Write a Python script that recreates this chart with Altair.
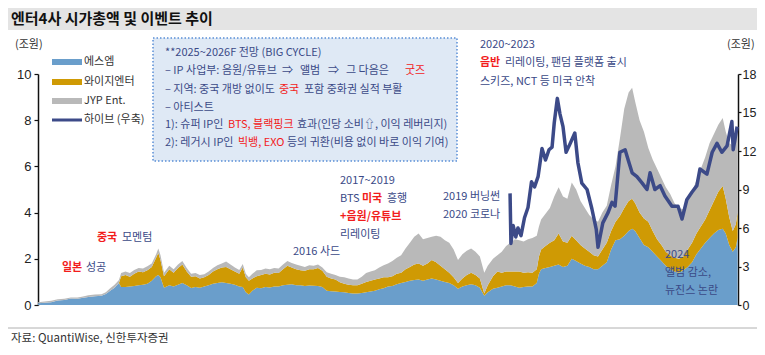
import altair as alt
import pandas as pd

# ---------------- data ----------------
t = [2010.00, 2010.15, 2010.30, 2010.45, 2010.60, 2010.75, 2010.90, 2011.00, 2011.15, 2011.30,
     2011.45, 2011.55, 2011.65, 2011.75, 2011.85, 2011.90, 2012.00, 2012.10, 2012.20, 2012.30,
     2012.40, 2012.50, 2012.60, 2012.70, 2012.75, 2012.80, 2012.88, 2013.00, 2013.10, 2013.20,
     2013.30, 2013.40, 2013.50, 2013.60, 2013.70, 2013.80, 2013.90, 2014.00, 2014.10, 2014.20,
     2014.30, 2014.40, 2014.50, 2014.60, 2014.68, 2014.75, 2014.82, 2014.90, 2015.00, 2015.10,
     2015.20, 2015.30, 2015.40, 2015.50, 2015.60, 2015.70, 2015.80, 2015.90, 2016.00, 2016.10,
     2016.20, 2016.30, 2016.40, 2016.50, 2016.60, 2016.70, 2016.80, 2016.90, 2017.00, 2017.10,
     2017.20, 2017.30, 2017.40, 2017.50, 2017.60, 2017.70, 2017.80, 2017.90, 2018.00, 2018.10,
     2018.20, 2018.30, 2018.40, 2018.50, 2018.60, 2018.70, 2018.80, 2018.90, 2019.00, 2019.10,
     2019.20, 2019.30, 2019.40, 2019.50, 2019.60, 2019.70, 2019.80, 2019.90, 2020.00, 2020.10,
     2020.20, 2020.28, 2020.40, 2020.50, 2020.60, 2020.70, 2020.80, 2020.90, 2021.00, 2021.10,
     2021.20, 2021.30, 2021.40, 2021.45, 2021.50, 2021.60, 2021.70, 2021.80, 2021.90, 2022.00,
     2022.10, 2022.20, 2022.30, 2022.40, 2022.50, 2022.60, 2022.70, 2022.80, 2022.90, 2023.00,
     2023.10, 2023.20, 2023.30, 2023.40, 2023.50, 2023.58, 2023.65, 2023.75, 2023.85, 2023.95,
     2024.05, 2024.15, 2024.25, 2024.35, 2024.45, 2024.55, 2024.65, 2024.75, 2024.85, 2024.95,
     2025.05, 2025.15, 2025.25, 2025.35, 2025.45, 2025.55, 2025.65, 2025.72, 2025.80, 2025.88,
     2025.95, 2025.99]

sm = [0.08, 0.10, 0.12, 0.20, 0.22, 0.28, 0.27, 0.30, 0.35, 0.38,
      0.40, 0.48, 0.62, 0.75, 0.95, 0.78, 0.78, 0.80, 0.82, 0.85,
      0.88, 0.92, 1.05, 1.25, 1.30, 1.20, 0.75, 0.85, 0.80, 0.88,
      0.95, 0.85, 0.74, 0.78, 0.75, 0.80, 0.85, 0.92, 0.95, 0.98,
      0.95, 0.92, 0.88, 0.80, 0.78, 0.55, 0.45, 0.62, 0.75, 0.72,
      0.78, 0.76, 0.80, 0.80, 0.85, 0.88, 0.90, 0.85, 0.85, 0.82,
      0.84, 0.83, 0.82, 0.78, 0.62, 0.60, 0.58, 0.56, 0.55, 0.52,
      0.50, 0.50, 0.52, 0.55, 0.58, 0.62, 0.68, 0.72, 0.80, 0.82,
      0.90, 0.95, 1.00, 1.05, 1.08, 1.10, 1.05, 1.10, 1.15, 1.10,
      1.05, 1.00, 0.95, 0.85, 0.70, 0.80, 0.85, 0.90, 0.85, 0.75,
      0.40, 0.55, 0.70, 0.75, 0.80, 0.85, 0.85, 0.80, 0.75, 0.78,
      0.80, 0.80, 0.95, 1.35, 1.55, 1.60, 1.65, 1.70, 1.75, 1.65,
      1.70, 2.00, 1.90, 1.80, 1.70, 1.65, 1.55, 1.55, 1.70, 1.85,
      2.40, 2.80, 2.85, 3.00, 3.20, 3.30, 3.20, 2.90, 2.60, 2.50,
      2.30, 2.10, 1.90, 1.70, 1.55, 1.45, 1.40, 1.50, 1.65, 1.85,
      2.20, 2.45, 2.70, 2.90, 3.10, 3.25, 3.30, 3.10, 2.60, 2.30,
      2.50, 2.90]

yg = [0, 0, 0, 0, 0, 0, 0, 0, 0, 0,
      0, 0, 0, 0, 0, 0.47, 0.52, 0.42, 0.53, 0.60,
      0.54, 0.58, 0.60, 0.80, 0.95, 0.75, 0.50, 0.70, 0.60, 0.72,
      0.80, 0.60, 0.48, 0.47, 0.40, 0.40, 0.45, 0.53, 0.60, 0.64,
      0.70, 0.63, 0.57, 0.55, 0.84, 0.65, 0.60, 0.53, 0.50, 0.58,
      0.57, 0.56, 0.60, 0.58, 0.70, 0.82, 0.72, 0.70, 0.65, 0.66,
      0.71, 0.72, 0.78, 0.70, 0.60, 0.55, 0.52, 0.42, 0.37, 0.36,
      0.35, 0.35, 0.40, 0.45, 0.47, 0.48, 0.47, 0.48, 0.40, 0.43,
      0.45, 0.45, 0.55, 0.60, 0.67, 0.70, 0.65, 0.70, 0.80, 0.75,
      0.65, 0.55, 0.45, 0.35, 0.25, 0.35, 0.45, 0.50, 0.45, 0.40,
      0.10, 0.30, 0.55, 0.70, 0.60, 0.60, 0.60, 0.65, 0.70, 0.62,
      0.62, 0.60, 0.60, 0.75, 0.85, 0.95, 1.05, 1.10, 1.35, 1.10,
      1.00, 1.00, 0.90, 0.80, 0.75, 0.65, 0.60, 0.55, 0.70, 0.85,
      0.80, 0.80, 1.00, 1.20, 1.30, 1.30, 1.20, 1.10, 1.15, 1.10,
      0.90, 0.75, 0.70, 0.60, 0.60, 0.60, 0.60, 0.60, 0.75, 0.85,
      0.90, 0.95, 1.00, 1.20, 1.40, 1.65, 1.85, 1.50, 1.20, 0.90,
      1.00, 1.10]

jyp = [0.04, 0.05, 0.06, 0.05, 0.05, 0.05, 0.05, 0.06, 0.07, 0.07,
       0.07, 0.07, 0.10, 0.13, 0.13, 0.13, 0.15, 0.16, 0.17, 0.15,
       0.16, 0.18, 0.15, 0.15, 0.20, 0.20, 0.15, 0.15, 0.15, 0.15,
       0.15, 0.15, 0.13, 0.13, 0.15, 0.13, 0.15, 0.15, 0.17, 0.18,
       0.23, 0.20, 0.17, 0.17, 0.16, 0.15, 0.15, 0.20, 0.25, 0.22,
       0.23, 0.23, 0.20, 0.20, 0.20, 0.20, 0.20, 0.20, 0.20, 0.17,
       0.17, 0.15, 0.15, 0.14, 0.20, 0.20, 0.20, 0.24, 0.28, 0.27,
       0.25, 0.25, 0.30, 0.38, 0.40, 0.40, 0.47, 0.52, 0.60, 0.65,
       0.70, 0.75, 0.90, 1.05, 1.20, 1.30, 1.15, 1.10, 1.00, 1.15,
       1.25, 1.25, 1.30, 1.20, 1.00, 1.05, 1.05, 1.05, 1.00, 0.95,
       0.90, 0.85, 0.75, 0.70, 0.90, 1.10, 1.25, 1.40, 1.35, 1.35,
       1.43, 1.50, 1.45, 1.30, 1.30, 1.40, 1.50, 1.90, 2.00, 1.95,
       1.90, 2.30, 2.20, 1.90, 1.75, 1.60, 1.55, 1.50, 1.60, 1.60,
       2.00, 2.40, 3.35, 4.30, 4.70, 4.80, 4.40, 4.00, 3.75, 3.20,
       3.10, 3.05, 2.90, 2.80, 2.65, 2.35, 2.20, 2.05, 2.10, 2.20,
       2.30, 2.50, 2.70, 2.90, 2.90, 2.90, 2.95, 2.90, 3.20, 3.70,
       3.80, 3.70]

hybe_t = [2020.79, 2020.81, 2020.86, 2020.92, 2020.97, 2021.04, 2021.12, 2021.20, 2021.28, 2021.35,
          2021.43, 2021.48, 2021.52, 2021.60, 2021.68, 2021.75, 2021.80, 2021.87, 2021.93, 2022.00,
          2022.07, 2022.14, 2022.27, 2022.34, 2022.43, 2022.55, 2022.66, 2022.76, 2022.80, 2022.91,
          2023.03, 2023.12, 2023.19, 2023.30, 2023.42, 2023.49, 2023.58, 2023.69, 2023.81, 2023.92,
          2023.99, 2024.10, 2024.22, 2024.33, 2024.49, 2024.63, 2024.72, 2024.83, 2024.95, 2025.06,
          2025.13, 2025.29, 2025.41, 2025.52, 2025.63, 2025.75, 2025.86, 2025.89, 2025.98]
hybe = [8.7, 4.8, 6.2, 5.3, 6.0, 5.4, 6.8, 7.6, 9.6, 9.2,
        10.0, 11.2, 12.2, 11.3, 12.1, 12.3, 14.2, 16.1, 14.9, 13.9,
        11.9, 12.4, 13.4, 11.1, 9.5, 9.0, 7.5, 5.9, 4.5, 6.4,
        7.2, 8.0, 7.7, 11.9, 12.1, 11.3, 10.3, 10.0, 9.5, 9.0,
        10.3, 9.0, 9.3, 8.5, 7.7, 7.7, 6.7, 8.2, 8.8, 9.3,
        10.6, 10.2, 11.9, 12.6, 11.9, 12.4, 14.3, 12.1, 13.9]

companies = ["에스엠", "와이지엔터", "JYP Ent."]
hybe_name = "하이브 (우축)"
year_ticks = list(range(2010, 2026))
left_ticks = [0, 2, 4, 6, 8, 10]
right_ticks = [0, 3, 6, 9, 12, 15, 18]

# ---------------- styles ----------------
C_SM, C_YG, C_JYP, C_HYBE = "#6a9ecb", "#cf9a04", "#b9b9b9", "#3c4a88"
NAVY, RED = "#3b4a87", "#f21c1c"
KF = "Noto Sans CJK KR"
NF = "Liberation Sans Narrow, Liberation Sans, Arial"

rows = []
for i, tt in enumerate(t):
    for k, (name, vals) in enumerate(zip(companies, [sm, yg, jyp])):
        rows.append({"t": tt, "company": name, "v": vals[i], "ord": k})
df = pd.DataFrame(rows)
hdf = pd.DataFrame({"t": hybe_t, "v": hybe})

OX, OY = 38, 74  # page position of plot origin


def P(x, y):
    return x - OX, y - OY


x_enc = alt.X("t:Q", scale=alt.Scale(domain=[2010, 2026], nice=False, zero=False),
              axis=alt.Axis(values=year_ticks, labelExpr="substring(toString(datum.value), 2, 4)",
                            title=None, grid=False, domainColor="#111", domainWidth=1.5,
                            tickColor="#111", tickWidth=1.2, tickSize=5, labelFont=NF,
                            labelFontSize=13, labelColor="#222", labelPadding=3))

area = alt.Chart(df).mark_area(interpolate="linear").encode(
    x=x_enc,
    y=alt.Y("v:Q", stack="zero", scale=alt.Scale(domain=[0, 10], nice=False),
            axis=alt.Axis(orient="left", values=left_ticks, title=None, grid=False,
                          domainColor="#111", domainWidth=1.5, tickColor="#111", tickWidth=1.2,
                          tickSize=4, labelFont=NF, labelFontSize=13, labelColor="#222",
                          labelPadding=3)),
    color=alt.Color("company:N", scale=alt.Scale(domain=companies, range=[C_SM, C_YG, C_JYP]),
                    legend=None),
    order=alt.Order("ord:Q", sort="ascending"),
)

line = alt.Chart(hdf).mark_line(color=C_HYBE, strokeWidth=3.5, strokeJoin="round").encode(
    x=alt.X("t:Q", scale=alt.Scale(domain=[2010, 2026], nice=False, zero=False), axis=None),
    y=alt.Y("v:Q", scale=alt.Scale(domain=[0, 18], nice=False),
            axis=alt.Axis(orient="right", values=right_ticks, title=None, grid=False,
                          domainColor="#111", domainWidth=1.5, tickColor="#111", tickWidth=1.2,
                          tickSize=3, labelFont=NF, labelFontSize=12.5, labelColor="#222",
                          labelPadding=1)),
)


def rect_layer(items, **mk):
    d = pd.DataFrame(items)
    return alt.Chart(d).mark_rect(**mk).encode(
        x=alt.X("x:Q", scale=None, axis=None), x2="x2:Q",
        y=alt.Y("y:Q", scale=None, axis=None), y2="y2:Q",
        color=alt.Color("c:N", scale=None, legend=None))


def box(x1, y1, x2, y2, c):
    a, b = P(x1, y1)
    e, f = P(x2, y2)
    return {"x": a, "y": b, "x2": e, "y2": f, "c": c}


title_bar = rect_layer([box(8, 8, 757, 30, "#e4e4e4")])
swatches = rect_layer([box(52, 59, 82, 65, C_SM), box(52, 79, 82, 85, C_YG),
                       box(52, 98, 82, 104, C_JYP)])
note_box = alt.Chart(pd.DataFrame([box(153, 38, 457, 161, "#dfe9f5")])).mark_rect(
    stroke="#5a8fd6", strokeWidth=1.5, strokeDash=[1.5, 2]).encode(
    x=alt.X("x:Q", scale=None, axis=None), x2="x2:Q",
    y=alt.Y("y:Q", scale=None, axis=None), y2="y2:Q",
    color=alt.Color("c:N", scale=None, legend=None))


def rule_layer(items, **mk):
    d = pd.DataFrame(items)
    return alt.Chart(d).mark_rule(**mk).encode(
        x=alt.X("x:Q", scale=None, axis=None), x2="x2:Q",
        y=alt.Y("y:Q", scale=None, axis=None),
        color=alt.Color("c:N", scale=None, legend=None))


legend_line = rule_layer([{"x": P(52, 0)[0], "x2": P(82, 0)[0], "y": P(0, 120)[1], "c": C_HYBE}],
                         strokeWidth=3)
sep_line = rule_layer([{"x": P(8, 0)[0], "x2": P(757, 0)[0], "y": P(0, 328)[1], "c": "#b0b0b0"}],
                      strokeWidth=1)


def txt(text, x, y, c=NAVY):
    a, b = P(x, y)
    return {"text": text, "x": a, "y": b, "c": c}


def text_layer(items, size=10.5, weight="normal", font=KF, align="left"):
    d = pd.DataFrame(items)
    return alt.Chart(d).mark_text(align=align, baseline="middle", font=font, fontSize=size,
                                  fontWeight=weight).encode(
        x=alt.X("x:Q", scale=None, axis=None), y=alt.Y("y:Q", scale=None, axis=None),
        text="text:N", color=alt.Color("c:N", scale=None, legend=None))


title_txt = text_layer([txt("엔터4사 시가총액 및 이벤트 추이", 11, 19, "#111")], size=15, weight="bold")
unit_txt = text_layer([txt("(조원)", 15, 45, "#333"), txt("(조원)", 727, 45, "#333")], size=11)
legend_txt = text_layer([txt(companies[0], 84, 62, "#333"), txt(companies[1], 84, 82, "#333"),
                         txt(companies[2], 84, 101, "#333"), txt(hybe_name, 84, 120, "#333")],
                        size=11)
source_txt = text_layer([txt("자료: QuantiWise, 신한투자증권", 11, 339, "#333")], size=11.5)

box_txt = text_layer([
    txt("**2025~2026F 전망 (BIG CYCLE)", 165, 53),
    txt("– IP 사업부: 음원/유튜브", 165, 71),
    txt("⇒", 282, 71),
    txt("앨범", 300, 71),
    txt("⇒", 328, 71),
    txt("그 다음은", 346, 71),
    txt("굿즈", 405, 71, RED),
    txt("– 지역: 중국 개방 없이도", 165, 90),
    txt("중국", 279, 90, RED),
    txt("포함 중화권 실적 부활", 304, 90),
    txt("– 아티스트", 165, 108),
    txt("1): 슈퍼 IP인", 165, 125),
    txt("BTS, 블랙핑크", 228, 125, RED),
    txt("효과(인당 소비⇧, 이익 레버리지)", 297, 125),
    txt("2): 레거시 IP인", 165, 143),
    txt("빅뱅, EXO", 238, 143, RED),
    txt("등의 귀환(비용 없이 바로 이익 기여)", 287, 143),
], size=11)

ann_txt = text_layer([
    txt("성공", 86, 268),
    txt("모멘텀", 122, 238),
    txt("2016 사드", 293, 252),
    txt("2017~2019", 340, 181),
    txt("BTS", 340, 199),
    txt("흥행", 387, 199),
    txt("리레이팅", 340, 235),
    txt("2019 버닝썬", 443, 197),
    txt("2020 코로나", 443, 215),
    txt("2020~2023", 480, 45),
    txt("리레이팅, 팬덤 플랫폼 출시", 505, 63),
    txt("스키즈, NCT 등 미국 안착", 480, 82),
    txt("2024", 665, 255),
    txt("앨범 감소,", 665, 273),
    txt("뉴진스 논란", 665, 291),
], size=11)

ann_red = text_layer([
    txt("일본", 62, 268, RED),
    txt("중국", 97, 238, RED),
    txt("미국", 362, 199, RED),
    txt("+음원/유튜브", 340, 217, RED),
    txt("음반", 480, 63, RED),
], size=11, weight="bold")

chart = alt.layer(
    area, line, title_bar, note_box, swatches, legend_line, sep_line,
    title_txt, unit_txt, legend_txt, source_txt, box_txt, ann_txt, ann_red,
).resolve_scale(y="independent").properties(
    width=700, height=231,
    autosize=alt.AutoSizeParams(type="none"),
    padding={"left": 30, "top": 66, "right": 19, "bottom": 42},
    background="white",
).configure_view(stroke=None)

chart.save("out.html", embed_options={"renderer": "svg", "actions": False})
